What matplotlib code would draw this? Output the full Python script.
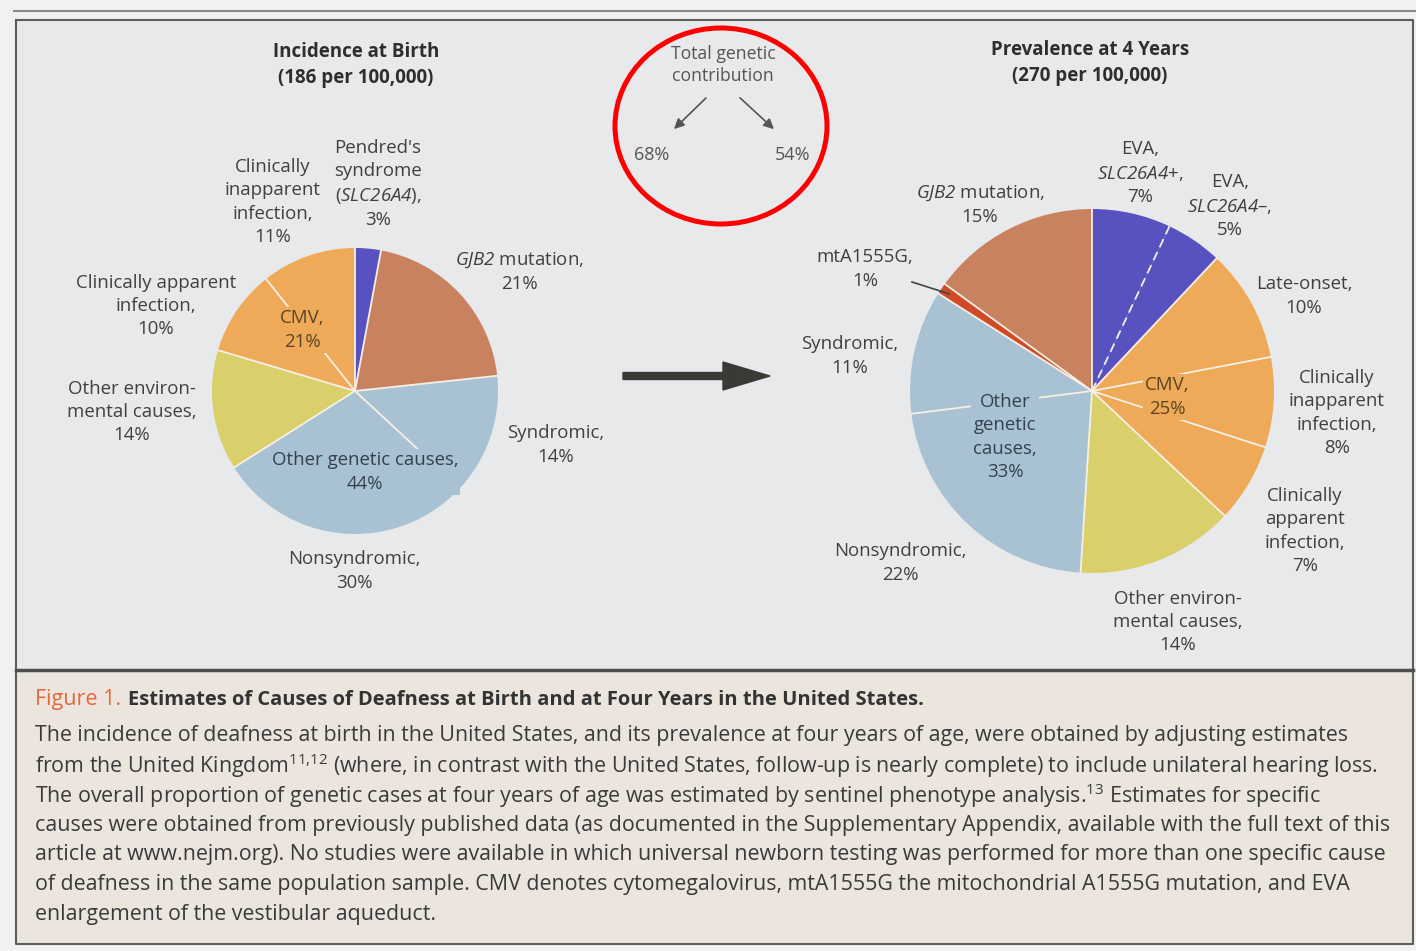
import numpy as np
import matplotlib.pyplot as plt
from matplotlib.patches import Ellipse, Rectangle, FancyArrow, Circle

plt.rcParams['font.family'] = ['Open Sans', 'DejaVu Sans']
plt.rcParams['mathtext.fontset'] = 'custom'
plt.rcParams['mathtext.rm'] = 'Open Sans'
plt.rcParams['mathtext.it'] = 'Open Sans:italic'
plt.rcParams['mathtext.sf'] = 'Open Sans:italic'   # used for gene names (keeps digits italic)
plt.rcParams['mathtext.bf'] = 'Open Sans:bold'

# ---- data ----
birth_rate = 186
four_rate = 270
genetic_total = [68, 54]

birth_causes = ["Pendred's syndrome (SLC26A4)", "GJB2 mutation", "Syndromic", "Nonsyndromic",
                "Other environmental causes", "Clinically apparent infection",
                "Clinically inapparent infection"]
birth_pct = [3, 21, 14, 30, 14, 10, 11]
birth_cmv = 21
birth_other_gen = 44

four_causes = ["EVA, SLC26A4+", "EVA, SLC26A4-", "Late-onset", "Clinically inapparent infection",
               "Clinically apparent infection", "Other environmental causes", "Nonsyndromic",
               "Syndromic", "mtA1555G", "GJB2 mutation"]
four_pct = [7, 5, 10, 8, 7, 14, 22, 11, 1, 15]
four_cmv = 25
four_other_gen = 33

BLUE = '#5852c0'
BROWN = '#c9825f'
LBLUE = '#a9c2d3'
YEL = '#d9d06c'
ORA = '#eeaa58'
RED = '#cf4b28'
birth_colors = [BLUE, BROWN, LBLUE, LBLUE, YEL, ORA, ORA]
four_colors = [BLUE, BLUE, ORA, ORA, ORA, YEL, LBLUE, LBLUE, RED, BROWN]

TXT = '#404040'

fig = plt.figure(figsize=(14.16, 9.51), dpi=100)
fig.patch.set_facecolor('#f1f1f0')
ax = fig.add_axes([0, 0, 1, 1])

# panels and frame
ax.add_patch(Rectangle((16, 20), 1397, 650, fc='#e8e9eb', ec='none', zorder=0))
ax.add_patch(Rectangle((16, 670), 1397, 274, fc='#ebe5dd', ec='none', zorder=0))
ax.plot([14, 1416], [11, 11], color='#8a8c8c', lw=1.5)
ax.plot([16, 1413, 1413, 16, 16], [20, 20, 944, 944, 20], color='#5c5e5c', lw=1.5)
ax.plot([16, 1413], [670, 670], color='#4d4f4d', lw=2.5)


def draw_pie(values, colors, center, radius, dashed=()):
    ax.pie(values, colors=colors, startangle=-90, counterclock=True, center=center,
           radius=radius, frame=True, wedgeprops=dict(linewidth=0))
    frac = np.cumsum([0] + list(values[:-1])) / sum(values)
    for i, f in enumerate(frac):
        a = np.deg2rad(-90 + 360 * f)
        ax.plot([center[0], center[0] + radius * np.cos(a)],
                [center[1], center[1] + radius * np.sin(a)],
                color='#f6f0e4', lw=1.3, ls=(0, (5, 3)) if i in dashed else '-', zorder=3)


def label(x, y, s, color=TXT, box=None, clip=None, **kw):
    bb = None
    if box is not None:
        bb = dict(boxstyle='square,pad=0.1', fc=box, ec='none')
    t = ax.text(x, y, s, ha='center', va='center', fontsize=13.4, color=color,
                linespacing=1.38, zorder=5, bbox=bb, **kw)
    if clip is not None:
        # keep the masking box inside the pie
        t.get_bbox_patch().set_clip_path(Circle(clip[0], clip[1], transform=ax.transData))
    return t


birth_c, birth_r = (355, 391), 143
four_c, four_r = (1092, 391), 182
draw_pie(birth_pct, birth_colors, birth_c, birth_r)
draw_pie(four_pct, four_colors, four_c, four_r, dashed=(1,))

# titles
ax.text(356, 65, f"Incidence at Birth\n({birth_rate} per 100,000)", ha='center', va='center',
        fontsize=13.5, fontweight='bold', color='#2e2e2e', linespacing=1.38)
ax.text(1090, 63, f"Prevalence at 4 Years\n({four_rate} per 100,000)", ha='center', va='center',
        fontsize=13.5, fontweight='bold', color='#2e2e2e', linespacing=1.38)

# left pie labels
label(378, 184, f"Pendred's\nsyndrome\n($\\mathsf{{SLC26A4}}$),\n{birth_pct[0]}%")
label(273, 202, f"Clinically\ninapparent\ninfection,\n{birth_pct[6]}%")
label(519, 272, f"$\\mathsf{{GJB2}}$ mutation,\n{birth_pct[1]}%")
label(156, 306, f"Clinically apparent\ninfection,\n{birth_pct[5]}%")
label(302, 330, f"CMV,\n{birth_cmv}%", color='#5a4424', box=ORA, clip=(birth_c, birth_r))
label(132, 412, f"Other environ-\nmental causes,\n{birth_pct[4]}%")
label(556, 445, f"Syndromic,\n{birth_pct[2]}%")
label(365, 472, f"Other genetic causes,\n{birth_other_gen}%", color='#34414c', box=LBLUE,
      clip=(birth_c, birth_r))
label(354, 571, f"Nonsyndromic,\n{birth_pct[3]}%")

# right pie labels
label(1140, 173, f"EVA,\n$\\mathsf{{SLC26A4}}$+,\n{four_pct[0]}%")
label(1230, 206, f"EVA,\n$\\mathsf{{SLC26A4}}$–,\n{four_pct[1]}%")
label(980, 205, f"$\\mathsf{{GJB2}}$ mutation,\n{four_pct[9]}%")
label(865, 269, f"mtA1555G,\n{four_pct[8]}%")
label(1304, 296, f"Late-onset,\n{four_pct[2]}%")
label(850, 356, f"Syndromic,\n{four_pct[7]}%")
label(1167, 397, f"CMV,\n{four_cmv}%", color='#5a4424', box=ORA, clip=(four_c, four_r))
label(1005, 437, f"Other\ngenetic\ncauses,\n{four_other_gen}%", color='#34414c', box=LBLUE,
      clip=(four_c, four_r))
label(1337, 413, f"Clinically\ninapparent\ninfection,\n{four_pct[3]}%")
label(1305, 531, f"Clinically\napparent\ninfection,\n{four_pct[4]}%")
label(900, 563, f"Nonsyndromic,\n{four_pct[6]}%")
label(1178, 622, f"Other environ-\nmental causes,\n{four_pct[5]}%")

# leader to the mtA1555G sliver
mid = (sum(four_pct[:8]) + four_pct[8] / 2) / sum(four_pct)
a = np.deg2rad(-90 + 360 * mid)
ax.plot([912, four_c[0] + 0.95 * four_r * np.cos(a)],
        [282, four_c[1] + 0.95 * four_r * np.sin(a)], color='#444', lw=1.2, zorder=4)

# total genetic contribution callout
ax.text(723, 65, "Total genetic\ncontribution", ha='center', va='center', fontsize=12.7,
        color='#555', linespacing=1.3)
ax.annotate('', xy=(672, 131), xytext=(708, 96),
            arrowprops=dict(arrowstyle='-|>', color='#555', lw=1.2, mutation_scale=15))
ax.annotate('', xy=(776, 131), xytext=(738, 96),
            arrowprops=dict(arrowstyle='-|>', color='#555', lw=1.2, mutation_scale=15))
ax.text(652, 155, f"{genetic_total[0]}%", ha='center', va='center', fontsize=13, color='#555')
ax.text(793, 155, f"{genetic_total[1]}%", ha='center', va='center', fontsize=13, color='#555')
ax.add_patch(Ellipse((721, 126), 212, 196, fill=False, ec='#ff0000', lw=3.6, zorder=6))

# big arrow between pies
ax.add_patch(FancyArrow(623, 376, 147, 0, width=7, head_width=28, head_length=47,
                        length_includes_head=True, color='#3b3935', zorder=4))

# caption
t = ax.text(35, 700, "Figure 1.", color='#e2693b', fontsize=15.5, va='center', ha='left')
ax.annotate("Estimates of Causes of Deafness at Birth and at Four Years in the United States.",
            xy=(1, 0.5), xycoords=t, xytext=(5, 0), textcoords='offset points',
            va='center', ha='left', fontsize=14.5, fontweight='bold', color='#333')
cap_lines = [
    "The incidence of deafness at birth in the United States, and its prevalence at four years of age, were obtained by adjusting estimates",
    "from the United Kingdom$^{11{,}12}$ (where, in contrast with the United States, follow-up is nearly complete) to include unilateral hearing loss.",
    "The overall proportion of genetic cases at four years of age was estimated by sentinel phenotype analysis.$^{13}$ Estimates for specific",
    "causes were obtained from previously published data (as documented in the Supplementary Appendix, available with the full text of this",
    "article at www.nejm.org). No studies were available in which universal newborn testing was performed for more than one specific cause",
    "of deafness in the same population sample. CMV denotes cytomegalovirus, mtA1555G the mitochondrial A1555G mutation, and EVA",
    "enlargement of the vestibular aqueduct.",
]
for i, line in enumerate(cap_lines):
    ax.text(35, 736 + i * 29.7, line, ha='left', va='center', fontsize=15.4, color='#3a3a3a')

ax.set_xlim(0, 1416)
ax.set_ylim(951, 0)
ax.set_aspect('equal')
ax.axis('off')

fig.savefig('out.png', dpi=100, facecolor=fig.get_facecolor())
